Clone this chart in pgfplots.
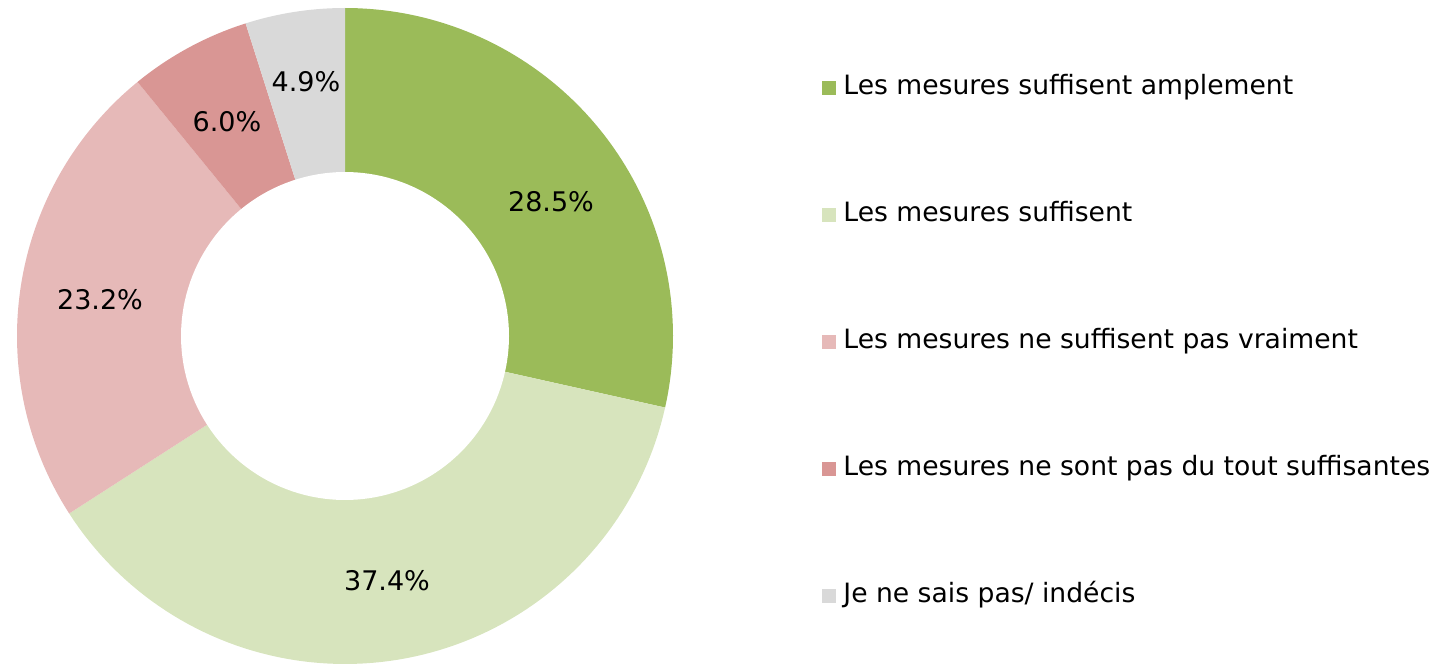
\documentclass[border=0pt]{standalone}
\usepackage{fontspec}
\setmainfont{DejaVu Sans}
\usepackage{pgfplots}
\pgfplotsset{compat=1.18}

\definecolor{gA}{HTML}{9BBB59}
\definecolor{gB}{HTML}{D7E4BD}
\definecolor{rA}{HTML}{E6B9B8}
\definecolor{rB}{HTML}{D99694}
\definecolor{gy}{HTML}{D9D9D9}

% donut centre and radii, in pixel units of the axis
\def\cx{345}\def\cy{328}\def\rout{328}\def\rin{164}
\def\cum{0}

% one slice: share in %, colour, legend text
\newcommand\slice[3]{%
  \pgfmathsetmacro\angA{90-3.6*\cum}%
  \pgfmathsetmacro\angB{90-3.6*(\cum+#1)}%
  \addplot[fill=#2, draw=none, domain=\angB:\angA, samples=90]
    ({\cx+\rout*cos(x)},{\cy+\rout*sin(x)}) -- (axis cs:\cx,\cy) -- cycle;
  \addlegendentry{#3}
  \pgfmathsetmacro\cumnew{\cum+#1}\global\let\cum\cumnew
}

\begin{document}
\begin{tikzpicture}
\begin{axis}[
  scale only axis,
  width=721.5pt, height=332pt,
  xmin=0, xmax=1443, ymin=0, ymax=664,
  hide axis, clip=false,
  legend cell align=left,
  legend image code/.code={\fill[#1] (0pt,-3.6pt) rectangle (7.2pt,3.6pt);},
  legend style={draw=none, fill=none, inner sep=0pt, outer sep=0pt,
    at={(axis cs:822,588.6)}, anchor=north west,
    row sep=51pt, column sep=3.5pt,
    font=\fontsize{13.3}{15}\selectfont,
    nodes={inner sep=0pt, text height=9.5pt, text depth=3pt}},
]
% keep the whole canvas in the bounding box
\path (rel axis cs:0,0) rectangle (rel axis cs:1,1);

\slice{28.5}{gA}{Les mesures suffisent amplement}
\slice{37.4}{gB}{Les mesures suffisent}
\slice{23.2}{rA}{Les mesures ne suffisent pas vraiment}
\slice{6.0}{rB}{Les mesures ne sont pas du tout suffisantes}
\slice{4.9}{gy}{Je ne sais pas/ indécis}
\addplot[fill=white, draw=none, domain=0:360, samples=160, forget plot]
  ({\cx+\rin*cos(x)},{\cy+\rin*sin(x)}) -- cycle;

\begin{scope}[every node/.style={font=\fontsize{13.5}{15}\selectfont, inner sep=0pt}]
\node at (axis cs:551,462) {28.5\%};
\node at (axis cs:387,83)  {37.4\%};
\node at (axis cs:100,364) {23.2\%};
\node at (axis cs:227,542) {6.0\%};
\node at (axis cs:306,582) {4.9\%};
\end{scope}
\end{axis}
\end{tikzpicture}
\end{document}
